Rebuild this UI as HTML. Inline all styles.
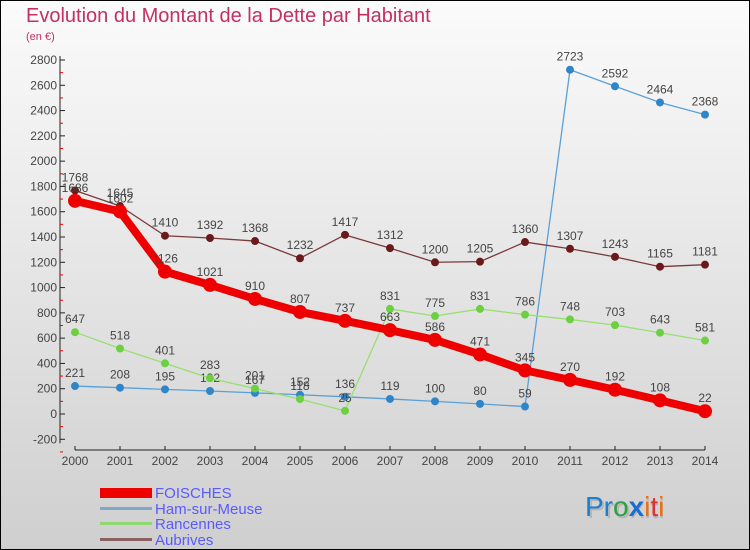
<!DOCTYPE html>
<html><head><meta charset="utf-8"><style>
body{margin:0;}
#wrap{width:750px;height:550px;position:relative;overflow:hidden;font-family:"Liberation Sans",sans-serif;}
svg{display:block}
</style></head><body>
<div id="wrap">
<svg id="chart" width="750" height="550" xmlns="http://www.w3.org/2000/svg" font-family="Liberation Sans, sans-serif">
<defs><linearGradient id="bg" x1="0" y1="0" x2="0" y2="1"><stop offset="0" stop-color="#fbfbfb"/><stop offset="1" stop-color="#cfcfcf"/></linearGradient></defs>
<rect x="0.5" y="0.5" width="749" height="549" fill="url(#bg)" stroke="#000"/>
<text x="26" y="22" font-size="20" fill="#c4305f">Evolution du Montant de la Dette par Habitant</text>
<text x="26" y="40" font-size="11" fill="#c4305f">(en €)</text>
<g id="axes"></g>
<g id="series"></g>
<g font-size="15" fill="#5a5aff">
<rect x="100" y="488" width="52" height="10" fill="#e00"/>
<text x="155" y="498">FOISCHES</text>
<rect x="100" y="507" width="52" height="3" fill="#7fa8c8"/>
<text x="155" y="514">Ham-sur-Meuse</text>
<rect x="100" y="522" width="52" height="3" fill="#8fd870"/>
<text x="155" y="529">Rancennes</text>
<rect x="100" y="538" width="52" height="3" fill="#8a6060"/>
<text x="155" y="545">Aubrives</text>
</g>
<g font-size="28">
<text x="585" y="516" fill="#999" opacity="0.5" transform="translate(2,2)">Proxiti</text>
<text x="585" y="516"><tspan fill="#1a7fd0">Pr</tspan><tspan fill="#2aa040">o</tspan><tspan fill="#1a6fd0" font-weight="bold">x</tspan><tspan fill="#f07010">i</tspan><tspan fill="#e03030">t</tspan><tspan fill="#f07010">i</tspan></text>
</g>
</svg>
</div>
<script>
const years=[2000,2001,2002,2003,2004,2005,2006,2007,2008,2009,2010,2011,2012,2013,2014];
const foisches=[1686,1602,1126,1021,910,807,737,663,586,471,345,270,192,108,22];
const ham=[221,208,195,182,167,152,136,119,100,80,59,2723,2592,2464,2368];
const rancennes=[647,518,401,283,201,118,25,831,775,831,786,748,703,643,581];
const aubrives=[1768,1645,1410,1392,1368,1232,1417,1312,1200,1205,1360,1307,1243,1165,1181];
const yTicks=[-200,0,200,400,600,800,1000,1200,1400,1600,1800,2000,2200,2400,2600,2800];
const NS="http://www.w3.org/2000/svg";
function xS(i){return 75+i*45;}
function yS(v){return 414-v*0.12643;}
function mk(tag,attrs,parent){const e=document.createElementNS(NS,tag);for(const k in attrs)e.setAttribute(k,attrs[k]);parent.appendChild(e);return e;}
const axes=document.getElementById('axes'),ser=document.getElementById('series');
let yl=mk('line',{x1:60,y1:yS(2800)-4,x2:60,y2:yS(-200)+4,stroke:'#222'},axes);


yTicks.forEach(t=>{const y=yS(t);
 mk('line',{x1:60,y1:y,x2:65,y2:y,stroke:'#222'},axes);
 mk('line',{x1:60,y1:y+12.64,x2:63,y2:y+12.64,stroke:'#e00'},axes);
 const tx=mk('text',{x:57,y:y+4,'text-anchor':'end','font-size':12,fill:'#444'},axes);tx.textContent=t;
 
 
});
let xl=mk('line',{x1:75,y1:450,x2:xS(14),y2:450,stroke:'#222'},axes);


years.forEach((yr,i)=>{const x=xS(i);
 mk('line',{x1:x,y1:446,x2:x,y2:450,stroke:'#222'},axes);
 const tx=mk('text',{x:x,y:465,'text-anchor':'middle','font-size':12,fill:'#444'},axes);tx.textContent=yr;
 
 
});
function draw(vals,name,col,dot,w,r){
 const g=mk('g',{},ser);
 
 
 mk('polyline',{points:vals.map((v,i)=>xS(i)+','+yS(v)).join(' '),fill:'none',stroke:col,'stroke-width':w,'stroke-linejoin':'round'},g);
 vals.forEach((v,i)=>{const c=mk('circle',{cx:xS(i),cy:yS(v),r:r,fill:dot},g);
  
  
  const t=mk('text',{x:xS(i),y:yS(v)-9,'text-anchor':'middle','font-size':12,fill:'#444'},g);t.textContent=v;
  
  
 });
}
draw(ham,'ham-sur-meuse','#5aa0d8','#2e86c8',1.3,4);
draw(rancennes,'rancennes','#96e070','#6cd040',1.3,4);
draw(aubrives,'aubrives','#7a3a3a','#6a1a1a',1.3,4);
draw(foisches,'foisches','#ee0000','#ee0000',8,7);
</script>
</body></html>
